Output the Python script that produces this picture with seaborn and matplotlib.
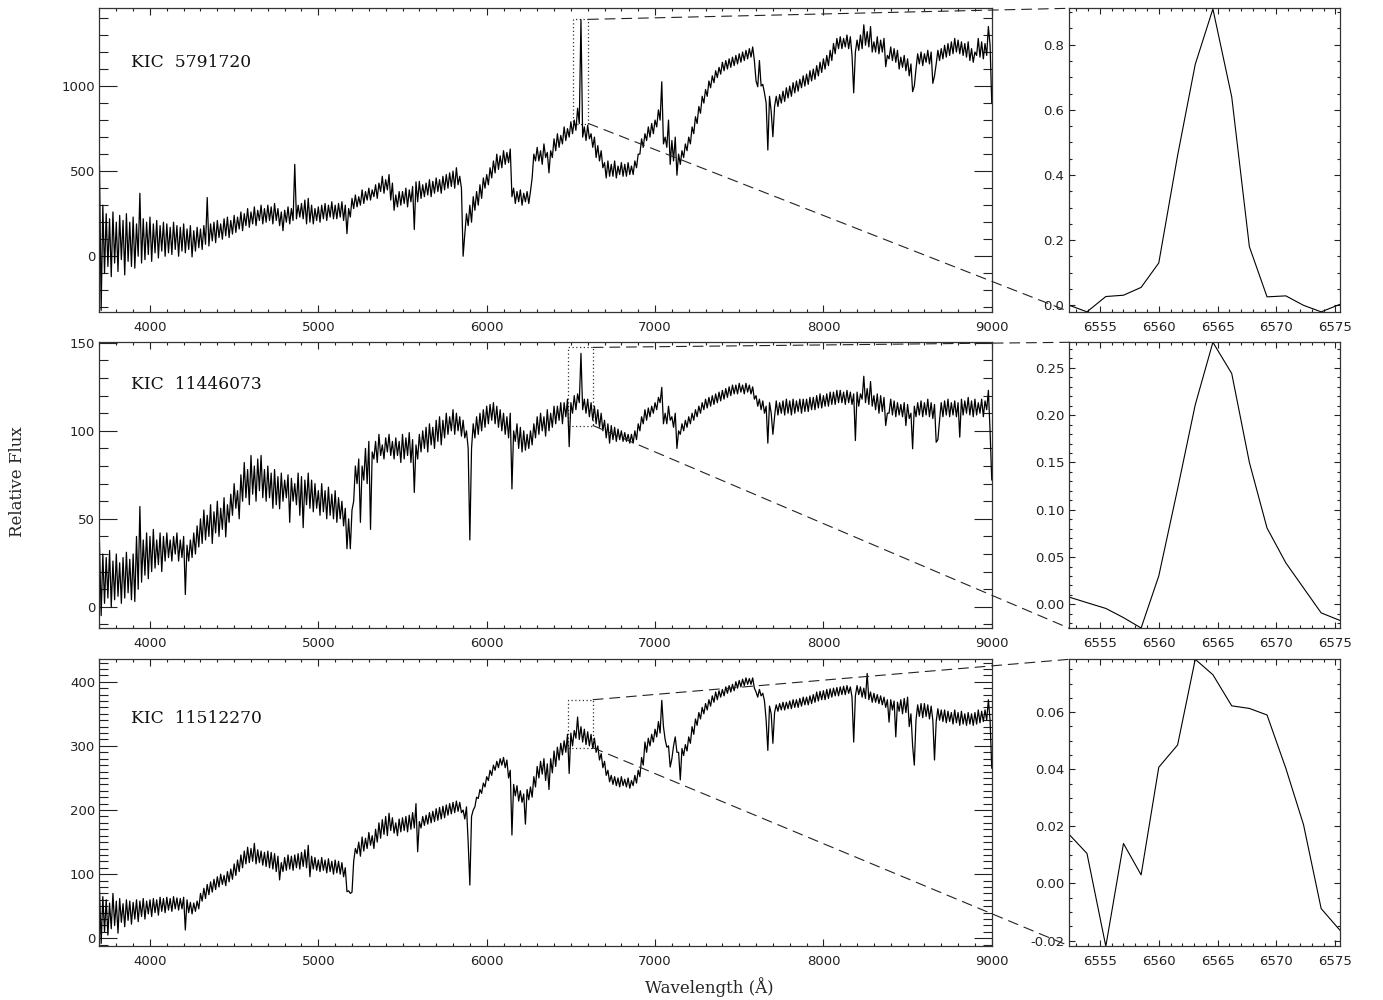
import numpy as np
import pandas as pd
import matplotlib
matplotlib.use("Agg")
import matplotlib.pyplot as plt
import seaborn as sns
from matplotlib.patches import Rectangle, ConnectionPatch
from matplotlib.ticker import MultipleLocator, FormatStrFormatter

# ---------------- data ----------------
star_names = ["KIC  5791720", "KIC  11446073", "KIC  11512270"]

wave_start = 3700.0   # first wavelength sample (Angstrom)
wave_step = 10.0

# --- KIC 5791720: flux read at 3700, 3720, ..., 9000 A (upper side of the noise)
flux_5791720_a = [
    535, 300, 250, 220, 260, 200, 240, 210, 250, 200,
    230, 190, 370, 220, 200, 230, 190, 210, 180, 200,
    190, 170, 200, 180, 170, 190, 160, 180, 150, 170,
    160, 180, 345, 190, 200, 210, 190, 220, 230, 210,
    240, 230, 260, 250, 280, 260, 290, 270, 300, 280,
    300, 290, 310, 280, 260, 270, 290, 280, 540, 300,
    310, 330, 340, 300, 280, 290, 300, 310, 300, 320,
    300, 310, 320, 300, 280, 340, 360, 350, 390, 380,
    400, 390, 420, 430, 470, 450, 480, 430, 360, 380,
    380, 400, 390, 410, 437, 440, 420, 430, 450, 440,
    460, 450, 470, 480, 490, 500, 520, 470, 0, 250,
    300, 350, 380, 420, 460, 480, 520, 560, 600, 590,
    620, 610, 630, 400, 380, 390, 370, 380, 380, 600,
    640, 620, 660, 610, 620, 690, 720, 710, 760, 750,
    790, 800, 870, 1390, 760, 770, 720, 700, 650, 620,
    550, 560, 540, 560, 530, 550, 540, 550, 530, 560,
    600, 690, 720, 760, 780, 800, 860, 1025, 700, 800,
    680, 700, 600, 620, 660, 700, 760, 820, 880, 940,
    980, 1030, 1060, 1090, 1110, 1140, 1150, 1160, 1170, 1180,
    1190, 1200, 1210, 1220, 1230, 1030, 1150, 1010, 900, 940,
    702, 940, 950, 970, 990, 1000, 1020, 1030, 1040, 1060,
    1070, 1090, 1100, 1120, 1140, 1160, 1180, 1210, 1250, 1280,
    1290, 1280, 1300, 1290, 960, 1270, 1300, 1360, 1320, 1350,
    1260, 1290, 1270, 1280, 1180, 1230, 1220, 1210, 1170, 1180,
    1160, 1130, 1000, 1190, 1200, 1190, 1210, 1200, 1060, 1210,
    1220, 1240, 1250, 1260, 1280, 1270, 1260, 1250, 1260, 1220,
    1200, 1280, 1260, 1250, 1350, 900,
]
# --- flux read at 3710, 3730, ..., 8990 A (lower side of the noise)
flux_5791720_b = [
    -318, -100, -60, -120, -40, -90, -20, -110, -30, -60,
    -70, 0, -40, -20, 10, -30, 20, -10, 30, 0,
    20, 10, 40, 0, 30, 20, 40, -4, 30, 50,
    40, 70, 60, 90, 80, 110, 100, 120, 110, 130,
    140, 160, 150, 180, 170, 190, 180, 210, 190, 200,
    210, 190, 210, 180, 150, 200, 190, 210, 220, 230,
    220, 190, 200, 190, 210, 200, 220, 210, 230, 220,
    220, 230, 210, 133, 230, 280, 290, 300, 310, 330,
    330, 350, 340, 380, 370, 390, 330, 270, 290, 300,
    310, 290, 320, 157, 320, 340, 350, 360, 350, 370,
    380, 370, 390, 400, 410, 400, 420, 400, 130, 180,
    200, 270, 300, 340, 400, 420, 460, 490, 510, 520,
    540, 550, 350, 310, 320, 300, 320, 310, 460, 560,
    560, 540, 580, 490, 580, 620, 640, 660, 680, 700,
    720, 740, 780, 700, 680, 690, 640, 580, 560, 520,
    460, 470, 470, 460, 480, 470, 470, 480, 480, 520,
    600, 640, 680, 700, 720, 760, 800, 660, 640, 540,
    560, 476, 540, 580, 620, 660, 720, 780, 840, 900,
    940, 990, 1020, 1050, 1070, 1090, 1100, 1110, 1120, 1130,
    1140, 1150, 1160, 1170, 1150, 996, 1000, 960, 624, 850,
    880, 880, 900, 910, 930, 940, 960, 970, 990, 1000,
    1010, 1030, 1040, 1060, 1080, 1100, 1120, 1150, 1190, 1220,
    1220, 1230, 1220, 1180, 1200, 1210, 1220, 1240, 1230, 1200,
    1200, 1190, 1200, 1114, 1160, 1150, 1140, 1100, 1110, 1090,
    1060, 967, 1100, 1130, 1120, 1140, 1130, 1016, 1130, 1150,
    1160, 1170, 1180, 1190, 1200, 1190, 1180, 1170, 1150, 1140,
    1180, 1170, 1160, 1180, 1240,
]

# --- KIC 11446073
flux_11446073_a = [
    37, 30, 28, 32, 26, 30, 25, 28, 31, 27,
    30, 40, 57, 38, 42, 40, 44, 38, 42, 40,
    42, 38, 40, 42, 38, 40, 35, 38, 42, 46,
    50, 55, 52, 58, 54, 60, 56, 62, 58, 64,
    70, 66, 75, 82, 78, 86, 80, 84, 86, 78,
    80, 76, 78, 74, 76, 72, 75, 73, 70, 76,
    74, 72, 76, 72, 70, 66, 70, 66, 68, 64,
    66, 62, 60, 56, 50, 55, 80, 84, 80, 90,
    94, 88, 94, 98, 92, 96, 98, 94, 96, 94,
    98, 96, 99, 95, 92, 98, 100, 102, 104, 102,
    106, 108, 106, 110, 108, 112, 110, 108, 106, 100,
    38, 104, 108, 110, 112, 114, 115, 116, 114, 112,
    110, 108, 110, 100, 104, 102, 100, 98, 100, 104,
    108, 110, 108, 112, 110, 114, 114, 116, 116, 118,
    116, 120, 121, 144, 118, 118, 116, 114, 112, 110,
    106, 104, 103, 102, 101, 100, 99, 98, 98, 100,
    104, 108, 112, 113, 114, 116, 119, 124.7, 110, 114,
    108, 110, 100, 104, 106, 108, 110, 112, 114, 116,
    118, 119, 120, 121, 122, 123, 124, 125, 126, 126,
    127, 126, 127, 126, 125, 120, 118, 117, 114, 116,
    98, 117, 116, 117, 118, 117, 118, 117, 118, 118,
    118, 119, 119, 120, 121, 120, 121, 122, 122, 123,
    123, 122, 123, 122, 121, 122, 121, 131, 124, 128,
    120, 121, 120, 119, 110, 118, 117, 116, 115, 116,
    115, 110, 114, 116, 117, 116, 118, 116, 115, 95,
    116, 117, 118, 116, 117, 116, 118, 117, 119, 117,
    118, 116, 118, 117, 123, 72,
]
flux_11446073_b = [
    -5, 2, 5, 0, 4, 6, 2, 5, 8, 4,
    3, 10, 14, 18, 16, 20, 22, 24, 20, 26,
    28, 26, 30, 26, 28, 7, 26, 28, 30, 34,
    36, 38, 40, 36, 42, 40, 44, 39.7, 48, 52,
    56, 50, 60, 62, 58, 64, 60, 66, 62, 60,
    62, 56, 58, 55.7, 60, 62, 48, 60, 58, 52,
    45, 58, 56, 54, 56, 52, 54, 50, 52, 50,
    48, 50, 46, 33, 33, 60, 70, 48, 72, 70,
    44, 84, 82, 86, 84, 88, 86, 84, 86, 82,
    84, 86, 82, 65, 84, 88, 90, 88, 92, 90,
    94, 92, 96, 98, 100, 98, 100, 97, 96, 90,
    90, 96, 98, 100, 102, 104, 106, 104, 102, 100,
    98, 96, 67, 94, 90, 88, 89, 90, 92, 96,
    98, 100, 97, 100, 102, 104, 106, 104, 108, 91,
    110, 112, 116, 112, 110, 108, 106, 104, 102, 100,
    96, 93, 95, 94, 95, 94, 94, 93, 93, 95,
    100, 104, 106, 108, 110, 112, 116, 104, 104, 106,
    102, 90, 98, 100, 102, 104, 106, 108, 110, 112,
    113, 114, 115, 116, 117, 118, 119, 120, 121, 121,
    122, 121, 122, 121, 118, 114, 112, 110, 93, 110,
    108, 109, 110, 109, 110, 109, 110, 111, 110, 111,
    111, 112, 112, 113, 113, 114, 114, 115, 115, 116,
    116, 115, 116, 115, 94.5, 114, 118, 116, 115, 114,
    112, 110, 111, 103, 110, 109, 108, 109, 108, 103,
    107, 89.8, 108, 109, 108, 109, 108, 107, 93.5, 106,
    108, 109, 108, 109, 108, 96.4, 109, 110, 109, 108,
    109, 110, 108, 112, 100,
]

# --- KIC 11512270
flux_11512270_a = [
    78, 65, 60, 55, 70, 58, 62, 54, 60, 58,
    56, 60, 58, 62, 58, 60, 62, 60, 64, 62,
    64, 62, 65, 63, 62, 64, 60, 56, 55, 58,
    70, 78, 84, 88, 92, 96, 100, 98, 104, 108,
    116, 122, 130, 136, 142, 140, 148, 138, 136, 134,
    136, 134, 132, 128, 118, 126, 130, 128, 130, 132,
    134, 138, 145, 128, 126, 122, 126, 122, 124, 120,
    122, 120, 118, 110, 74, 72, 140, 150, 158, 156,
    165, 160, 170, 180, 185, 190, 195, 188, 180, 186,
    188, 190, 192, 196, 210, 182, 190, 192, 196, 198,
    202, 204, 206, 208, 210, 212, 214, 212, 200, 205,
    83, 200, 220, 232, 242, 252, 262, 270, 276, 280,
    282, 278, 262, 240, 238, 230, 225, 232, 236, 252,
    268, 276, 280, 272, 280, 292, 298, 304, 308, 318,
    320, 324, 345, 330, 326, 322, 318, 312, 300, 288,
    276, 262, 254, 252, 250, 252, 248, 250, 246, 254,
    262, 282, 306, 312, 318, 326, 338, 371, 310, 300,
    280, 314, 290, 296, 302, 314, 330, 342, 352, 360,
    366, 372, 378, 384, 386, 388, 392, 394, 396, 400,
    402, 404, 406, 405, 406, 384, 388, 382, 340, 362,
    304, 364, 366, 368, 368, 370, 372, 372, 374, 376,
    376, 378, 380, 384, 385, 386, 388, 389, 390, 391,
    392, 393, 394, 392, 306, 394, 392, 390, 413, 384,
    382, 380, 378, 376, 372, 372, 370, 368, 372, 374,
    376, 350, 270, 364, 366, 366, 364, 362, 278, 358,
    356, 356, 354, 352, 356, 352, 354, 350, 352, 350,
    352, 356, 354, 356, 372, 265,
]
flux_11512270_b = [
    -8, 10, 5, 15, 20, 8, 25, 18, 28, 22,
    30, 26, 34, 30, 38, 34, 40, 36, 42, 40,
    44, 42, 46, 44, 46, 13, 40, 38, 42, 46,
    58, 62, 68, 72, 76, 80, 84, 82, 88, 92,
    98, 104, 110, 116, 118, 120, 116, 118, 114, 112,
    110, 108, 104, 91, 104, 106, 108, 106, 110, 108,
    112, 110, 96, 108, 106, 104, 106, 102, 104, 100,
    102, 100, 96, 72.7, 70, 120, 132, 128, 136, 140,
    145, 140, 150, 156, 162, 160, 168, 164, 160, 166,
    168, 166, 170, 172, 135, 172, 176, 178, 180, 182,
    184, 186, 188, 192, 194, 196, 198, 196, 186, 150,
    190, 205, 218, 226, 236, 246, 254, 262, 266, 270,
    266, 250, 161, 222, 214, 212, 178, 216, 220, 236,
    250, 256, 246, 232, 258, 268, 278, 286, 290, 257,
    300, 312, 310, 306, 302, 300, 296, 290, 278, 266,
    254, 244, 240, 238, 236, 238, 236, 234, 238, 242,
    252, 270, 290, 300, 306, 314, 320, 330, 298, 267,
    300, 290, 247, 285, 292, 304, 318, 332, 342, 350,
    356, 362, 368, 372, 376, 378, 382, 384, 386, 390,
    392, 394, 396, 396, 390, 376, 378, 370, 293, 350,
    352, 354, 356, 356, 358, 358, 360, 360, 362, 364,
    364, 366, 368, 370, 372, 372, 374, 376, 378, 378,
    380, 380, 382, 376, 378, 380, 376, 374, 372, 368,
    368, 366, 364, 360, 337, 356, 314, 354, 350, 352,
    330, 300, 340, 346, 344, 346, 342, 340, 338, 340,
    338, 336, 338, 334, 336, 332, 334, 332, 334, 332,
    334, 336, 338, 340, 340,
]

halpha_wave = [6552.4, 6553.9, 6555.5, 6557.0, 6558.5, 6560.0, 6561.6, 6563.1,
               6564.6, 6566.2, 6567.7, 6569.2, 6570.8, 6572.3, 6573.8, 6575.4]
halpha_5791720 = [0.0, -0.02, 0.027, 0.031, 0.055, 0.13, 0.46, 0.74,
                  0.91, 0.64, 0.18, 0.026, 0.029, 0.0, -0.02, 0.003]
halpha_11446073 = [0.0076, 0.0018, -0.0043, -0.014, -0.025, 0.030, 0.122, 0.211,
                   0.277, 0.244, 0.150, 0.0807, 0.0438, 0.0174, -0.009, -0.017]
halpha_11512270 = [0.0171, 0.0105, -0.022, 0.014, 0.003, 0.0407, 0.0485, 0.0785,
                   0.0731, 0.0622, 0.0613, 0.059, 0.0403, 0.0206, -0.0088, -0.0164]

# zoom-box extents drawn on the full spectra
box_wave = [(6511, 6604), (6485, 6632), (6485, 6632)]
box_flux = [(780, 1392), (103, 147.4), (297, 372)]

spectra = [(flux_5791720_a, flux_5791720_b),
           (flux_11446073_a, flux_11446073_b),
           (flux_11512270_a, flux_11512270_b)]
halpha = [halpha_5791720, halpha_11446073, halpha_11512270]


def merge(even, odd):
    """Interleave the two sample lists (3700, 3710, 3720, ...)."""
    even = list(even)
    odd = list(odd)[:len(even) - 1]
    out = []
    for k, v in enumerate(even):
        out.append(v)
        if k < len(odd):
            out.append(odd[k])
    return np.asarray(out, dtype=float)


# ---------------- style ----------------
sns.set_theme(style="ticks")
plt.rcParams["font.family"] = ["DejaVu Sans"]
plt.rcParams["axes.edgecolor"] = "#333333"
plt.rcParams["axes.linewidth"] = 0.9

fig = plt.figure(figsize=(13.83, 10.0), dpi=100)

main_left, main_w = 0.0718, 0.6453
ins_left, ins_w = 0.7732, 0.1957
rows = [(0.6883, 0.3034), (0.3717, 0.2860), (0.0540, 0.2867)]

main_ylims = [(-326, 1457), (-12.2, 150.3), (-12, 435)]
main_ymajor = [500, 50, 100]
main_yminor = [100, 10, 10]
ins_ylims = [(-0.0196, 0.912), (-0.0253, 0.277), (-0.0219, 0.0785)]
ins_ymajor = [0.2, 0.05, 0.02]
ins_yminor = [0.05, 0.01, 0.005]
ins_fmt = ["%.1f", "%.2f", "%.2f"]
label_y = [0.823, 0.851, 0.792]

for i in range(3):
    b, h = rows[i]
    ax = fig.add_axes([main_left, b, main_w, h])
    axi = fig.add_axes([ins_left, b, ins_w, h])

    flux = merge(*spectra[i])
    wave = wave_start + wave_step * np.arange(len(flux))
    df = pd.DataFrame({"wave": wave, "flux": flux})
    sns.lineplot(data=df, x="wave", y="flux", ax=ax, color="black",
                 linewidth=0.9, estimator=None, sort=False)

    dfi = pd.DataFrame({"wave": halpha_wave, "flux": halpha[i]})
    sns.lineplot(data=dfi, x="wave", y="flux", ax=axi, color="black",
                 linewidth=0.8, estimator=None, sort=False)

    ax.set_xlim(3699, 9000)
    ax.set_ylim(*main_ylims[i])
    ax.xaxis.set_major_locator(MultipleLocator(1000))
    ax.xaxis.set_minor_locator(MultipleLocator(100))
    ax.yaxis.set_major_locator(MultipleLocator(main_ymajor[i]))
    ax.yaxis.set_minor_locator(MultipleLocator(main_yminor[i]))
    ax.set_xlabel("")
    ax.set_ylabel("")
    ax.tick_params(axis="both", which="both", direction="in", top=True, right=True,
                   colors="#222222", labelsize=9.5, width=0.8)
    ax.tick_params(axis="y", which="major", length=13, pad=3)
    ax.tick_params(axis="y", which="minor", length=6.5)
    ax.tick_params(axis="x", which="major", length=4.8, pad=6.5)
    ax.tick_params(axis="x", which="minor", length=2.4)

    axi.set_xlim(halpha_wave[0], halpha_wave[-1])
    axi.set_ylim(*ins_ylims[i])
    axi.xaxis.set_major_locator(MultipleLocator(5))
    axi.xaxis.set_minor_locator(MultipleLocator(1))
    axi.yaxis.set_major_locator(MultipleLocator(ins_ymajor[i]))
    axi.yaxis.set_minor_locator(MultipleLocator(ins_yminor[i]))
    axi.yaxis.set_major_formatter(FormatStrFormatter(ins_fmt[i]))
    axi.set_xlabel("")
    axi.set_ylabel("")
    axi.tick_params(axis="both", which="both", direction="in", top=True, right=True,
                    colors="#222222", labelsize=9.5, width=0.8)
    axi.tick_params(axis="y", which="major", length=4.5, pad=3.5)
    axi.tick_params(axis="y", which="minor", length=2.3)
    axi.tick_params(axis="x", which="major", length=4.2, pad=6.5)
    axi.tick_params(axis="x", which="minor", length=2.2)

    ax.text(0.0355, label_y[i], star_names[i], transform=ax.transAxes,
            fontsize=12.3, family="DejaVu Serif", va="center", ha="left",
            color="#111111")

    # zoom box and connectors
    x0, x1 = box_wave[i]
    y0, y1 = box_flux[i]
    ax.add_patch(Rectangle((x0, y0), x1 - x0, y1 - y0, fill=False,
                           linestyle=(0, (1, 2)), linewidth=0.9,
                           edgecolor="#333333"))
    for yb, yi in ((y1, 1.0), (y0, 0.0)):
        con = ConnectionPatch(xyA=(x1, yb), coordsA=ax.transData,
                              xyB=(0.0, yi), coordsB=axi.transAxes,
                              linestyle=(0, (9, 6)), linewidth=0.8,
                              color="#222222")
        fig.add_artist(con)

fig.text(0.513, 0.013, "Wavelength (Å)", ha="center", va="center",
         fontsize=12, family="DejaVu Serif")
fig.text(0.013, 0.518, "Relative Flux", ha="center", va="center",
         rotation=90, fontsize=12, family="DejaVu Serif")

fig.savefig("out.png", dpi=100, facecolor="white")
